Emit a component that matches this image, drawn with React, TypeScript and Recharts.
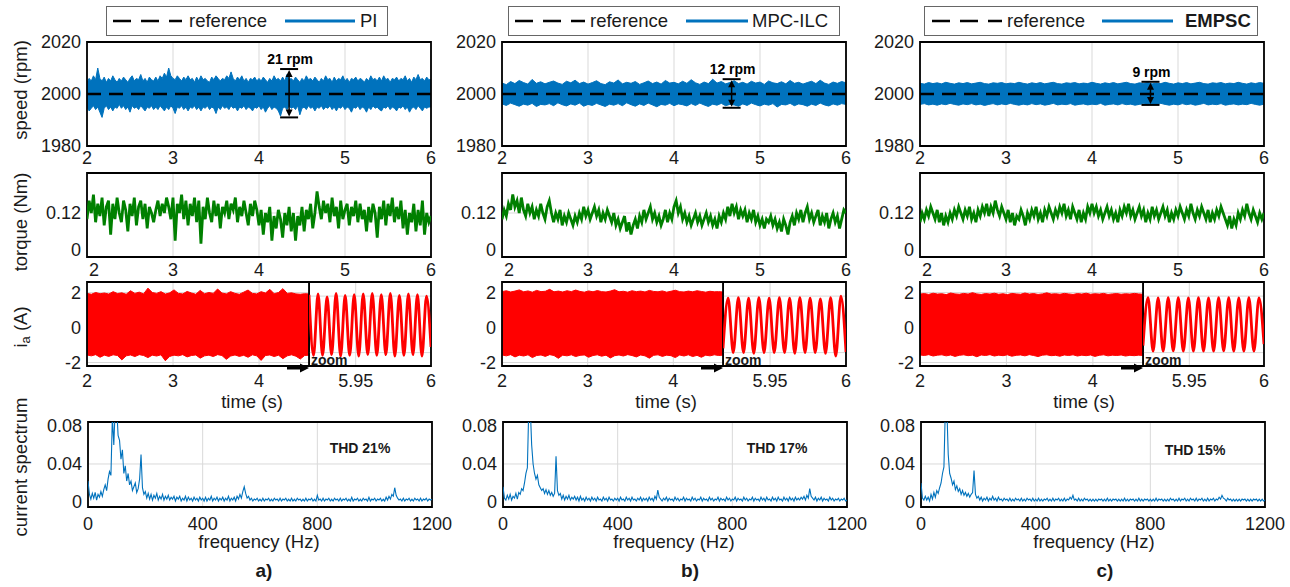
import React from 'react';
import { ComposedChart, Line, Area, XAxis, YAxis, CartesianGrid, ReferenceLine, ReferenceArea } from 'recharts';

const FONT = '"Liberation Sans", Arial, Helvetica, sans-serif';
const INK = '#1a1a1a';
const BLUE = '#0072BD';
const GREEN = '#008000';
const RED = '#FF0000';
const GRID = '#d9d9d9';

const methods = ['PI', 'MPC-ILC', 'EMPSC'];
const panelTags = ['a)', 'b)', 'c)'];
const thdLabels = ['THD 21%', 'THD 17%', 'THD 15%'];

const speedRef = 2000;
const speedTicks = [1980, 2000, 2020];
const timeTicks = [2, 3, 4, 5, 6];
const torqueTicks = [0, 0.12];
const currentTicks = [-2, 0, 2];
const zoomTicks = [5.95, 6];
const spectrumTicks = [0, 0.04, 0.08];
const freqTicks = [0, 400, 800, 1200];

const currentSplit = 4.58;
const zoomStart = 5.919;

// speed ripple annotation (time, top, bottom)
const rippleTime = [4.35, 4.67, 4.68];
const rippleHigh = [2009.6, 2005.7, 2004.7];
const rippleLow = [1991.0, 1994.7, 1995.8];
const rippleLabel = ['21 rpm', '12 rpm', '9 rpm'];

// speed envelopes, 2..6 s
const speedPiHi = [
  2004.5, 2006, 2005, 2007, 2005.5, 2010, 2006, 2005, 2006.5, 2004.5, 2006, 2005, 2007, 2005.5, 2004.5, 2006,
  2005, 2006.5, 2005.5, 2004.5, 2006, 2007, 2005, 2006, 2005.5, 2007.5, 2005, 2006, 2004.5, 2006.5, 2005.5, 2005,
  2006.5, 2005, 2007, 2006, 2008, 2006.5, 2010, 2007, 2006, 2005.5, 2007, 2006, 2005, 2006.5, 2005.5, 2007,
  2005.5, 2006, 2004.5, 2006.5, 2005, 2007, 2005.5, 2006, 2005, 2004.5, 2006.5, 2005.5, 2007, 2006, 2005, 2006,
  2005.5, 2007, 2006, 2008.5, 2006, 2005, 2006.5, 2005.5, 2007, 2005, 2006, 2004.5, 2006, 2005.5, 2006.5, 2005,
  2006, 2005, 2006.5, 2005.5, 2004.5, 2006, 2005, 2007, 2005.5, 2006, 2005, 2006.5, 2005, 2007.5, 2005.5, 2006,
  2005, 2006.5, 2005.5, 2004.5, 2006, 2005, 2007, 2005.5, 2006, 2005, 2006.5, 2005.5, 2004.5, 2006, 2005, 2007,
  2005.5, 2006, 2004.5, 2006.5, 2005, 2006, 2005.5, 2007, 2005, 2006, 2004.5, 2006, 2005.5, 2006.5, 2005, 2006,
  2005.5, 2004.5, 2006, 2005, 2007, 2005.5, 2006, 2005, 2006.5, 2005, 2007, 2005.5, 2006, 2004.5, 2006, 2005.5,
  2006.5, 2005, 2006, 2005.5, 2007, 2005, 2006, 2004.5, 2006.5, 2005.5, 2007.5, 2005.5, 2006, 2005, 2006.5, 2005.5,
  2005.5,
];
const speedPiLo = [
  1995, 1993.5, 1994.5, 1995.5, 1994, 1995, 1993, 1991, 1994.5, 1995.5, 1994, 1995, 1993.5, 1995, 1994.5, 1996,
  1994.5, 1995.5, 1994, 1995, 1993, 1995.5, 1994.5, 1995, 1994, 1995.5, 1994.5, 1993.5, 1995, 1994.5, 1995.5, 1994,
  1995, 1994, 1995.5, 1994.5, 1993.5, 1995, 1994, 1995.5, 1994.5, 1992.5, 1995, 1994.5, 1995.5, 1994, 1995, 1993.5,
  1995, 1994.5, 1995.5, 1994, 1995, 1993.5, 1995, 1994.5, 1995.5, 1994, 1995, 1994.5, 1992.5, 1995, 1994, 1995.5,
  1994.5, 1995, 1994, 1995.5, 1994.5, 1995, 1993.5, 1995, 1994.5, 1995.5, 1994, 1995, 1994.5, 1993.5, 1995, 1994.5,
  1995.5, 1994, 1995, 1993, 1994.5, 1995.5, 1994, 1995, 1994.5, 1993.5, 1991.5, 1994.5, 1995, 1994, 1995.5, 1994.5,
  1995, 1994, 1995.5, 1992, 1994.5, 1995, 1994, 1995.5, 1994.5, 1995, 1993.5, 1995, 1994.5, 1995.5, 1994, 1995,
  1994.5, 1995.5, 1994, 1995, 1993.5, 1995, 1994.5, 1995.5, 1994, 1995, 1994.5, 1993, 1995, 1994.5, 1995.5, 1994,
  1995, 1994.5, 1993, 1995, 1994, 1995.5, 1994.5, 1995, 1994, 1993.5, 1995, 1994.5, 1995.5, 1994, 1995, 1994.5,
  1993.5, 1995, 1994.5, 1995.5, 1994, 1995, 1993, 1994.5, 1995, 1994, 1995.5, 1994.5, 1993.5, 1995, 1994.5, 1995,
  1995,
];
const speedIlcHi = [
  2004.2, 2003.6, 2004.8, 2004.0, 2005.2, 2004.4, 2003.8, 2005.6, 2004.1, 2004.7,
  2003.9, 2004.5, 2005.0, 2004.2, 2003.7, 2004.9, 2004.3, 2005.3, 2004.0, 2004.6,
  2003.8, 2004.4, 2005.1, 2004.0, 2003.6, 2004.7, 2004.2, 2005.4, 2003.9, 2004.5,
  2004.1, 2004.8, 2003.7, 2004.3, 2005.0, 2004.0, 2004.6, 2003.8, 2005.2, 2004.2,
  2004.5, 2003.9, 2004.9, 2004.1, 2005.5, 2004.3, 2003.7, 2004.6, 2004.0, 2005.7,
  2004.2, 2004.8, 2003.9, 2004.4, 2005.1, 2004.0, 2004.5, 2003.8, 2004.9, 2004.2,
  2004.6, 2003.7, 2005.0, 2004.3, 2004.0, 2004.7, 2003.9, 2005.2, 2004.1, 2004.5,
  2003.8, 2004.4, 2004.9, 2004.0, 2005.3, 2004.2, 2003.7, 2004.6, 2004.1, 2004.8,
  2004.3,
];
const speedIlcLo = [
  1996.2, 1995.6, 1996.5, 1995.9, 1995.3, 1996.1, 1995.7, 1996.4, 1995.2, 1996.0,
  1995.8, 1996.3, 1995.5, 1996.6, 1995.9, 1995.4, 1996.2, 1995.7, 1996.5, 1995.3,
  1996.0, 1995.6, 1996.4, 1995.8, 1995.2, 1996.1, 1995.7, 1996.3, 1995.5, 1996.6,
  1995.9, 1995.3, 1996.2, 1995.6, 1996.5, 1995.8, 1995.1, 1996.0, 1995.7, 1996.4,
  1995.5, 1996.2, 1995.9, 1995.4, 1996.3, 1995.6, 1996.5, 1995.8, 1995.2, 1996.1,
  1995.7, 1996.4, 1995.5, 1996.0, 1995.8, 1995.3, 1996.2, 1995.6, 1996.5, 1995.9,
  1995.4, 1996.1, 1995.7, 1996.3, 1995.0, 1996.0, 1995.8, 1996.4, 1995.5, 1996.2,
  1995.9, 1995.3, 1996.1, 1995.6, 1996.5, 1995.8, 1995.4, 1996.2, 1995.7, 1996.3,
  1996.0,
];
const speedEmpscHi = [
  2004.1, 2003.8, 2004.4, 2004.0, 2004.3, 2003.9, 2004.5, 2004.1, 2003.8, 2004.3,
  2004.0, 2004.4, 2003.9, 2004.2, 2004.5, 2004.0, 2003.8, 2004.3, 2004.1, 2004.4,
  2003.9, 2004.2, 2004.0, 2004.5, 2004.1, 2003.8, 2004.3, 2004.0, 2004.4, 2003.9,
  2004.2, 2004.5, 2004.0, 2003.8, 2004.3, 2004.1, 2004.4, 2003.9, 2004.2, 2004.0,
  2004.5, 2004.1, 2003.8, 2004.3, 2004.0, 2004.4, 2003.9, 2004.2, 2004.5, 2004.0,
  2003.8, 2004.3, 2004.1, 2004.4, 2003.9, 2004.2, 2004.0, 2004.5, 2004.1, 2003.8,
  2004.3, 2004.0, 2004.4, 2003.9, 2004.2, 2004.5, 2004.0, 2003.8, 2004.3, 2004.1,
  2004.4, 2003.9, 2004.2, 2004.0, 2004.5, 2004.1, 2003.8, 2004.3, 2004.0, 2004.4,
  2004.1,
];
const speedEmpscLo = [
  1996.0, 1996.3, 1995.8, 1996.1, 1995.7, 1996.2, 1995.9, 1996.4, 1996.0, 1995.7,
  1996.2, 1995.9, 1996.3, 1995.8, 1996.1, 1995.6, 1996.0, 1996.3, 1995.8, 1996.2,
  1995.9, 1996.4, 1996.0, 1995.7, 1996.1, 1995.8, 1996.3, 1995.9, 1996.2, 1995.7,
  1996.0, 1996.4, 1995.8, 1996.1, 1995.9, 1996.3, 1995.7, 1996.0, 1996.2, 1995.8,
  1996.1, 1995.9, 1996.4, 1995.7, 1996.0, 1996.2, 1995.8, 1996.3, 1995.9, 1996.1,
  1995.7, 1996.0, 1996.3, 1995.8, 1996.2, 1995.9, 1996.4, 1996.0, 1995.7, 1996.1,
  1995.8, 1996.3, 1995.9, 1996.2, 1995.7, 1996.0, 1996.4, 1995.8, 1996.1, 1995.9,
  1996.3, 1995.7, 1996.0, 1996.2, 1995.8, 1996.1, 1995.9, 1996.4, 1996.0, 1995.7,
  1996.1,
];

// torque, 2..6 s
const torquePi = [
  0.10, 0.16, 0.12, 0.18, 0.09, 0.15, 0.11, 0.17, 0.08, 0.14, 0.16, 0.05, 0.15, 0.10, 0.17, 0.12,
  0.09, 0.16, 0.13, 0.06, 0.15, 0.11, 0.17, 0.08, 0.14, 0.16, 0.10, 0.15, 0.07, 0.14, 0.12, 0.09,
  0.13, 0.16, 0.11, 0.15, 0.12, 0.17, 0.14, 0.10, 0.17, 0.03, 0.15, 0.12, 0.18, 0.10, 0.16, 0.08,
  0.15, 0.11, 0.17, 0.09, 0.16, 0.02, 0.14, 0.10, 0.17, 0.12, 0.09, 0.16, 0.11, 0.15, 0.07, 0.14,
  0.12, 0.16, 0.10, 0.15, 0.13, 0.17, 0.09, 0.14, 0.11, 0.16, 0.12, 0.08, 0.15, 0.11, 0.16, 0.13,
  0.08, 0.13, 0.05, 0.12, 0.09, 0.14, 0.03, 0.11, 0.07, 0.13, 0.10, 0.04, 0.12, 0.08, 0.14, 0.06,
  0.12, 0.03, 0.11, 0.08, 0.14, 0.06, 0.13, 0.10, 0.15, 0.07, 0.12, 0.19, 0.14, 0.10, 0.16, 0.12,
  0.15, 0.09, 0.17, 0.11, 0.14, 0.07, 0.16, 0.10, 0.13, 0.15, 0.08, 0.14, 0.11, 0.16, 0.09, 0.15,
  0.10, 0.13, 0.06, 0.14, 0.09, 0.15, 0.12, 0.04, 0.14, 0.10, 0.16, 0.08, 0.15, 0.11, 0.17, 0.09,
  0.14, 0.10, 0.16, 0.07, 0.13, 0.05, 0.12, 0.09, 0.15, 0.06, 0.13, 0.08, 0.16, 0.05, 0.12, 0.09,
  0.11,
];
const torqueIlc = [
  0.10, 0.13, 0.11, 0.15, 0.13, 0.18, 0.14, 0.16, 0.12, 0.17, 0.13, 0.11, 0.15, 0.12, 0.14, 0.10,
  0.13, 0.11, 0.15, 0.12, 0.10, 0.14, 0.16, 0.12, 0.09, 0.12, 0.10, 0.13, 0.08, 0.11, 0.09, 0.12,
  0.10, 0.08, 0.11, 0.09, 0.12, 0.10, 0.14, 0.11, 0.13, 0.10, 0.12, 0.14, 0.11, 0.13, 0.09, 0.12,
  0.10, 0.13, 0.11, 0.09, 0.12, 0.08, 0.10, 0.07, 0.09, 0.11, 0.06, 0.09, 0.05, 0.08, 0.10, 0.07,
  0.11, 0.09, 0.13, 0.10, 0.12, 0.14, 0.10, 0.12, 0.09, 0.11, 0.08, 0.10, 0.13, 0.09, 0.12, 0.10,
  0.14, 0.16, 0.12, 0.14, 0.10, 0.12, 0.09, 0.11, 0.08, 0.10, 0.12, 0.09, 0.11, 0.08, 0.10, 0.12,
  0.09, 0.11, 0.08, 0.10, 0.07, 0.11, 0.09, 0.12, 0.10, 0.14, 0.11, 0.15, 0.12, 0.14, 0.10, 0.13,
  0.11, 0.13, 0.09, 0.12, 0.10, 0.13, 0.09, 0.11, 0.08, 0.10, 0.07, 0.10, 0.09, 0.11, 0.08, 0.10,
  0.07, 0.09, 0.06, 0.10, 0.08, 0.05, 0.09, 0.11, 0.08, 0.12, 0.10, 0.13, 0.09, 0.12, 0.14, 0.10,
  0.12, 0.09, 0.11, 0.13, 0.08, 0.11, 0.09, 0.12, 0.07, 0.10, 0.12, 0.09, 0.11, 0.07, 0.10, 0.13,
  0.12,
];
const torqueEmpsc = [
  0.09, 0.12, 0.10, 0.13, 0.11, 0.14, 0.12, 0.10, 0.13, 0.09, 0.12, 0.08, 0.11, 0.09, 0.12, 0.10,
  0.13, 0.11, 0.14, 0.12, 0.10, 0.13, 0.11, 0.14, 0.10, 0.12, 0.09, 0.13, 0.11, 0.14, 0.12, 0.15,
  0.11, 0.14, 0.12, 0.16, 0.13, 0.11, 0.14, 0.12, 0.10, 0.13, 0.09, 0.12, 0.08, 0.11, 0.10, 0.13,
  0.11, 0.08, 0.12, 0.10, 0.13, 0.11, 0.14, 0.10, 0.12, 0.09, 0.13, 0.11, 0.14, 0.12, 0.10, 0.13,
  0.11, 0.14, 0.12, 0.15, 0.11, 0.13, 0.10, 0.14, 0.12, 0.10, 0.13, 0.09, 0.12, 0.10, 0.14, 0.12,
  0.15, 0.12, 0.14, 0.11, 0.13, 0.10, 0.12, 0.14, 0.11, 0.13, 0.10, 0.12, 0.09, 0.13, 0.11, 0.14,
  0.12, 0.15, 0.11, 0.13, 0.10, 0.12, 0.14, 0.11, 0.13, 0.09, 0.12, 0.10, 0.14, 0.11, 0.13, 0.10,
  0.12, 0.14, 0.11, 0.13, 0.09, 0.12, 0.10, 0.13, 0.11, 0.14, 0.12, 0.10, 0.13, 0.11, 0.15, 0.12,
  0.10, 0.13, 0.11, 0.14, 0.12, 0.10, 0.13, 0.09, 0.12, 0.10, 0.13, 0.11, 0.14, 0.12, 0.10, 0.08,
  0.11, 0.07, 0.10, 0.08, 0.12, 0.10, 0.13, 0.11, 0.15, 0.12, 0.10, 0.13, 0.11, 0.09, 0.12, 0.10,
  0.12,
];

// phase current envelopes, 2..4.58 s
const currentPiHi = [
  1.95, 1.90, 2.00, 1.93, 1.97, 1.91, 2.05, 1.94, 1.98, 1.90,
  2.10, 1.95, 2.02, 1.92, 2.25, 2.00, 1.95, 2.05, 1.91, 1.98,
  2.15, 1.95, 1.92, 2.06, 1.97, 1.90, 2.12, 1.93, 2.00, 1.95,
  2.20, 1.97, 1.92, 2.05, 1.95, 1.90, 2.02, 2.14, 1.95, 1.92,
  2.05, 1.97, 2.18, 1.93, 2.00, 2.22, 1.95, 1.98, 1.92, 1.90,
  1.93, 1.92,
];
const currentPiLo = [
  -1.57, -1.62, -1.55, -1.70, -1.58, -1.65, -1.56, -1.60, -1.85, -1.62,
  -1.57, -1.66, -1.55, -1.60, -1.72, -1.58, -1.63, -1.56, -1.90, -1.65,
  -1.58, -1.62, -1.55, -1.68, -1.60, -1.57, -1.75, -1.62, -1.58, -1.66,
  -1.55, -1.60, -1.82, -1.63, -1.57, -1.65, -1.59, -1.70, -1.56, -1.62,
  -1.88, -1.60, -1.57, -1.66, -1.58, -1.78, -1.62, -1.56, -1.64, -1.80,
  -1.60, -1.58,
];
const currentIlcHi = [
  2.05, 2.10, 2.03, 2.08, 2.15, 2.04, 2.09, 2.02, 2.12, 2.05,
  2.07, 2.18, 2.04, 2.08, 2.03, 2.10, 2.05, 2.14, 2.06, 2.02,
  2.09, 2.04, 2.11, 2.05, 2.03, 2.08, 2.16, 2.04, 2.07, 2.02,
  2.10, 2.05, 2.08, 2.03, 2.12, 2.06, 2.04, 2.09, 2.02, 2.07,
  2.13, 2.05, 2.03, 2.08, 2.04, 2.10, 2.06, 2.02, 2.07, 2.04,
  2.05, 2.03,
];
const currentIlcLo = [
  -1.57, -1.62, -1.55, -1.68, -1.58, -1.63, -1.56, -1.72, -1.60, -1.57,
  -1.65, -1.55, -1.60, -1.76, -1.58, -1.62, -1.56, -1.66, -1.59, -1.57,
  -1.70, -1.60, -1.56, -1.64, -1.58, -1.74, -1.61, -1.57, -1.63, -1.55,
  -1.60, -1.68, -1.57, -1.62, -1.75, -1.59, -1.56, -1.65, -1.58, -1.61,
  -1.72, -1.57, -1.63, -1.56, -1.66, -1.59, -1.70, -1.58, -1.62, -1.56,
  -1.60, -1.58,
];
const currentEmpscHi = [
  1.91, 1.94, 1.89, 1.96, 1.91, 1.93, 1.88, 1.97, 1.92, 1.90,
  1.95, 1.91, 1.99, 1.92, 1.89, 1.94, 1.91, 1.96, 1.90, 1.93,
  1.88, 1.95, 1.92, 1.90, 1.97, 1.91, 1.94, 1.89, 1.92, 1.98,
  1.91, 1.93, 1.90, 1.95, 1.92, 1.89, 1.94, 1.91, 1.96, 1.90,
  1.93, 1.91, 1.95, 1.89, 1.92, 1.94, 1.90, 1.93, 1.91, 1.95,
  1.92, 1.90,
];
const currentEmpscLo = [
  -1.57, -1.60, -1.55, -1.63, -1.58, -1.56, -1.62, -1.57, -1.65, -1.59,
  -1.56, -1.61, -1.58, -1.67, -1.57, -1.60, -1.55, -1.63, -1.58, -1.61,
  -1.56, -1.64, -1.59, -1.57, -1.62, -1.55, -1.60, -1.66, -1.58, -1.56,
  -1.61, -1.59, -1.64, -1.57, -1.60, -1.56, -1.63, -1.58, -1.61, -1.57,
  -1.65, -1.59, -1.56, -1.62, -1.58, -1.60, -1.57, -1.63, -1.59, -1.61,
  -1.58, -1.60,
];

// zoomed current, successive peaks and troughs from 5.919 to 6 s
const zoomPi = [
  2.1, -2.2, 2.15, -2.2, 1.95, -2.15, 2.2, -2.25, 2.05, -2.2,
  2.1, -2.25, 2.15, -2.15, 2.2, -2.2, 2.1, -2.15, 2.2, -2.25,
  2.05, -2.2, 2.15, -2.15, 2.1, -2.25, 2.0, -1.6,
];
const zoomIlc = [
  -1.7, 1.85, -2.0, 1.9, -2.0, 1.85, -2.05, 1.9, -2.0, 1.85,
  -2.0, 1.9, -2.0, 1.85, -2.05, 1.9, -2.0, 1.85, -2.0, 1.8,
  -2.05, 1.9, -2.25, 2.0, -1.95,
];
const zoomEmpsc = [
  -1.5, 1.9, -1.9, 1.88, -1.9, 1.9, -1.88, 1.9, -1.9, 1.88,
  -1.9, 1.9, -1.9, 1.88, -1.9, 1.9, -1.88, 1.9, -1.9, 1.88,
  -1.9, 1.9, -1.9, 1.88, -1.4,
];

// current spectrum, 0..1200 Hz every 5 Hz (one row per 100 Hz)
const spectrumPi = [
  0.022, 0.008, 0.003, 0.009, 0.004, 0.010, 0.002, 0.008, 0.005, 0.011, 0.006, 0.013, 0.018, 0.012, 0.024, 0.032, 0.028, 0.090, 0.060, 0.100,
  0.100, 0.070, 0.065, 0.045, 0.055, 0.030, 0.038, 0.022, 0.030, 0.018, 0.022, 0.012, 0.016, 0.020, 0.010, 0.014, 0.024, 0.050, 0.015, 0.008,
  0.011, 0.004, 0.009, 0.003, 0.008, 0.002, 0.007, 0.004, 0.009, 0.002, 0.006, 0.003, 0.008, 0.002, 0.006, 0.003, 0.007, 0.002, 0.005, 0.003,
  0.006, 0.001, 0.005, 0.003, 0.006, 0.001, 0.004, 0.002, 0.006, 0.001, 0.005, 0.002, 0.004, 0.001, 0.005, 0.002, 0.004, 0.001, 0.005, 0.002,
  0.004, 0.001, 0.005, 0.001, 0.004, 0.002, 0.006, 0.001, 0.004, 0.002, 0.005, 0.001, 0.004, 0.002, 0.005, 0.001, 0.004, 0.002, 0.006, 0.001,
  0.004, 0.002, 0.005, 0.001, 0.006, 0.003, 0.008, 0.004, 0.011, 0.016, 0.009, 0.004, 0.006, 0.002, 0.004, 0.001, 0.003, 0.002, 0.004, 0.001,
  0.003, 0.001, 0.004, 0.001, 0.003, 0.002, 0.004, 0.001, 0.003, 0.001, 0.004, 0.002, 0.003, 0.001, 0.004, 0.001, 0.003, 0.002, 0.004, 0.001,
  0.003, 0.001, 0.004, 0.001, 0.003, 0.001, 0.004, 0.002, 0.003, 0.001, 0.003, 0.001, 0.004, 0.001, 0.003, 0.002, 0.004, 0.001, 0.003, 0.001,
  0.007, 0.002, 0.003, 0.001, 0.004, 0.001, 0.003, 0.002, 0.004, 0.001, 0.003, 0.001, 0.004, 0.002, 0.003, 0.001, 0.004, 0.001, 0.003, 0.002,
  0.004, 0.001, 0.003, 0.001, 0.005, 0.001, 0.003, 0.002, 0.004, 0.001, 0.003, 0.001, 0.004, 0.002, 0.003, 0.001, 0.005, 0.001, 0.003, 0.002,
  0.004, 0.001, 0.003, 0.002, 0.004, 0.001, 0.003, 0.001, 0.005, 0.002, 0.006, 0.003, 0.008, 0.006, 0.015, 0.007, 0.004, 0.002, 0.003, 0.001,
  0.004, 0.001, 0.003, 0.002, 0.004, 0.001, 0.003, 0.001, 0.004, 0.002, 0.003, 0.001, 0.004, 0.001, 0.003, 0.002, 0.004, 0.001, 0.003, 0.002,
  0.003,
];
const spectrumIlc = [
  0.016, 0.004, 0.002, 0.007, 0.003, 0.008, 0.002, 0.006, 0.004, 0.009, 0.003, 0.010, 0.008, 0.014, 0.012, 0.020, 0.030, 0.036, 0.100, 0.100,
  0.060, 0.040, 0.030, 0.024, 0.028, 0.018, 0.015, 0.012, 0.014, 0.009, 0.013, 0.008, 0.012, 0.007, 0.010, 0.006, 0.009, 0.048, 0.012, 0.007,
  0.009, 0.003, 0.007, 0.002, 0.006, 0.003, 0.007, 0.002, 0.005, 0.003, 0.006, 0.002, 0.005, 0.001, 0.006, 0.002, 0.004, 0.001, 0.005, 0.002,
  0.004, 0.001, 0.005, 0.002, 0.004, 0.001, 0.005, 0.002, 0.003, 0.001, 0.005, 0.002, 0.004, 0.001, 0.005, 0.002, 0.003, 0.001, 0.004, 0.002,
  0.004, 0.001, 0.005, 0.002, 0.003, 0.001, 0.005, 0.002, 0.004, 0.001, 0.005, 0.002, 0.003, 0.001, 0.004, 0.002, 0.005, 0.001, 0.004, 0.002,
  0.004, 0.001, 0.005, 0.002, 0.004, 0.001, 0.006, 0.003, 0.0125, 0.005, 0.003, 0.001, 0.004, 0.002, 0.005, 0.001, 0.004, 0.002, 0.003, 0.001,
  0.005, 0.002, 0.004, 0.001, 0.003, 0.002, 0.005, 0.001, 0.004, 0.002, 0.003, 0.001, 0.005, 0.002, 0.004, 0.001, 0.003, 0.002, 0.005, 0.001,
  0.004, 0.002, 0.003, 0.001, 0.005, 0.002, 0.004, 0.001, 0.003, 0.002, 0.005, 0.001, 0.004, 0.002, 0.003, 0.001, 0.005, 0.002, 0.004, 0.001,
  0.003, 0.002, 0.005, 0.001, 0.004, 0.002, 0.003, 0.001, 0.005, 0.002, 0.004, 0.001, 0.003, 0.002, 0.005, 0.001, 0.004, 0.002, 0.003, 0.001,
  0.005, 0.002, 0.004, 0.001, 0.005, 0.002, 0.003, 0.001, 0.005, 0.002, 0.004, 0.001, 0.005, 0.002, 0.003, 0.001, 0.005, 0.002, 0.004, 0.001,
  0.005, 0.002, 0.004, 0.001, 0.005, 0.002, 0.004, 0.002, 0.005, 0.003, 0.006, 0.002, 0.007, 0.004, 0.014, 0.006, 0.004, 0.002, 0.005, 0.001,
  0.004, 0.002, 0.005, 0.001, 0.004, 0.002, 0.003, 0.001, 0.005, 0.002, 0.004, 0.001, 0.003, 0.002, 0.004, 0.001, 0.003, 0.002, 0.004, 0.001,
  0.002,
];
const spectrumEmpsc = [
  0.020, 0.004, 0.002, 0.006, 0.002, 0.005, 0.001, 0.008, 0.003, 0.010, 0.005, 0.012, 0.009, 0.015, 0.020, 0.030, 0.037, 0.100, 0.100, 0.050,
  0.030, 0.025, 0.018, 0.022, 0.013, 0.017, 0.011, 0.014, 0.008, 0.012, 0.007, 0.010, 0.006, 0.009, 0.005, 0.008, 0.010, 0.033, 0.008, 0.004,
  0.006, 0.002, 0.005, 0.001, 0.004, 0.002, 0.005, 0.001, 0.004, 0.002, 0.006, 0.002, 0.004, 0.001, 0.005, 0.002, 0.003, 0.001, 0.004, 0.002,
  0.003, 0.001, 0.004, 0.001, 0.003, 0.001, 0.004, 0.002, 0.003, 0.001, 0.004, 0.001, 0.003, 0.001, 0.004, 0.002, 0.003, 0.001, 0.004, 0.001,
  0.003, 0.001, 0.004, 0.001, 0.003, 0.001, 0.003, 0.002, 0.004, 0.001, 0.003, 0.001, 0.004, 0.001, 0.003, 0.002, 0.004, 0.001, 0.003, 0.001,
  0.004, 0.001, 0.003, 0.002, 0.005, 0.003, 0.007, 0.002, 0.003, 0.001, 0.004, 0.001, 0.003, 0.001, 0.004, 0.002, 0.003, 0.001, 0.003, 0.001,
  0.003, 0.001, 0.003, 0.001, 0.003, 0.002, 0.003, 0.001, 0.003, 0.001, 0.004, 0.001, 0.003, 0.001, 0.003, 0.002, 0.003, 0.001, 0.003, 0.001,
  0.003, 0.001, 0.004, 0.001, 0.003, 0.001, 0.003, 0.002, 0.003, 0.001, 0.003, 0.001, 0.004, 0.001, 0.003, 0.001, 0.003, 0.002, 0.003, 0.001,
  0.003, 0.001, 0.003, 0.001, 0.004, 0.001, 0.003, 0.002, 0.003, 0.001, 0.003, 0.001, 0.003, 0.001, 0.004, 0.002, 0.003, 0.001, 0.003, 0.001,
  0.004, 0.001, 0.003, 0.002, 0.004, 0.001, 0.003, 0.001, 0.004, 0.002, 0.003, 0.001, 0.004, 0.001, 0.003, 0.002, 0.004, 0.001, 0.003, 0.001,
  0.004, 0.001, 0.003, 0.002, 0.004, 0.001, 0.003, 0.002, 0.005, 0.003, 0.007, 0.004, 0.003, 0.001, 0.004, 0.002, 0.003, 0.001, 0.003, 0.001,
  0.003, 0.001, 0.003, 0.001, 0.003, 0.002, 0.003, 0.001, 0.003, 0.001, 0.003, 0.001, 0.003, 0.002, 0.003, 0.001, 0.003, 0.001, 0.003, 0.001,
  0.002,
];

const speedHi = [speedPiHi, speedIlcHi, speedEmpscHi];
const speedLo = [speedPiLo, speedIlcLo, speedEmpscLo];
const torque = [torquePi, torqueIlc, torqueEmpsc];
const currentHi = [currentPiHi, currentIlcHi, currentEmpscHi];
const currentLo = [currentPiLo, currentIlcLo, currentEmpscLo];
const zoomCurrent = [zoomPi, zoomIlc, zoomEmpsc];
const spectrum = [spectrumPi, spectrumIlc, spectrumEmpsc];

// sample grid for n evenly spaced samples
const grid = (n: number, a: number, b: number) => Array.from({ length: n }, (_, i) => a + ((b - a) * i) / (n - 1));
const bandRows = (lo: number[], hi: number[], a: number, b: number) => {
  const t = grid(lo.length, a, b);
  return lo.map((v, i) => ({ t: t[i], band: [v, hi[i]] }));
};
const lineRows = (vals: number[], a: number, b: number) => {
  const t = grid(vals.length, a, b);
  return vals.map((v, i) => ({ t: t[i], v }));
};

// layout (page pixels)
const colLeft = [87, 502, 920];
const colW = 344;
const splitX = [309, 723, 1143];

const tickStyle = { fill: INK, fontSize: 18, fontFamily: FONT };

const torqueTick = (props: any) => {
  const { x, y, payload } = props;
  return (
    <text x={x + (payload.value === 2 ? 7 : 0)} y={y} dy="0.71em" textAnchor="middle" fill={INK} fontSize={18} fontFamily={FONT}>
      {payload.value}
    </text>
  );
};

const rippleShape = (label: string) => (p: any) => {
  const x = p.x1;
  const top = Math.min(p.y1, p.y2);
  const bot = Math.max(p.y1, p.y2);
  return (
    <g>
      <line x1={x} x2={x} y1={top + 5} y2={bot - 5} stroke="#000" strokeWidth={1.5} />
      <line x1={x - 9} x2={x + 9} y1={top} y2={top} stroke="#000" strokeWidth={2} />
      <line x1={x - 9} x2={x + 9} y1={bot} y2={bot} stroke="#000" strokeWidth={2} />
      <polygon points={`${x},${top + 1} ${x - 3.5},${top + 8} ${x + 3.5},${top + 8}`} fill="#000" />
      <polygon points={`${x},${bot - 1} ${x - 3.5},${bot - 8} ${x + 3.5},${bot - 8}`} fill="#000" />
      <text x={x + 1} y={top - 5} textAnchor="middle" fontWeight="bold" fontSize={14} fontFamily={FONT} fill="#000">
        {label}
      </text>
    </g>
  );
};

type PlotProps = {
  x: number;
  y: number;
  w: number;
  h: number;
  data: any[];
  xDomain: [number, number];
  xTicks: number[];
  yDomain: [number, number];
  yTicks?: number[];
  gridY: number[];
  tickGap: number;
  xTick?: any;
  children?: React.ReactNode;
};

function Plot({ x, y, w, h, data, xDomain, xTicks, yDomain, yTicks, gridY, tickGap, xTick, children }: PlotProps) {
  const padL = yTicks ? 60 : 0;
  const padR = 24;
  const padT = 12;
  const padB = 34;
  return (
    <div style={{ position: 'absolute', left: x - padL, top: y - padT }}>
      <ComposedChart width={w + padL + padR} height={h + padT + padB} data={data} margin={{ top: padT, right: padR, bottom: 0, left: 0 }}>
        <CartesianGrid stroke={GRID} strokeWidth={1} verticalValues={xTicks} horizontalValues={gridY} />
        <XAxis
          type="number"
          dataKey="t"
          domain={xDomain}
          ticks={xTicks}
          interval={0}
          allowDataOverflow
          height={padB}
          axisLine={false}
          tickLine={false}
          tickSize={1}
          tickMargin={tickGap}
          tick={xTick ?? tickStyle}
        />
        <YAxis
          type="number"
          domain={yDomain}
          ticks={yTicks}
          interval={0}
          allowDataOverflow
          width={padL}
          hide={!yTicks}
          axisLine={false}
          tickLine={false}
          tickSize={1}
          tickMargin={5}
          tick={tickStyle}
        />
        {children}
        <ReferenceArea
          x1={xDomain[0]}
          x2={xDomain[1]}
          y1={yDomain[0]}
          y2={yDomain[1]}
          fill="none"
          fillOpacity={0}
          stroke="#000"
          strokeWidth={1.8}
          ifOverflow="visible"
        />
      </ComposedChart>
    </div>
  );
}

function Column({ c }: { c: number }) {
  const left = colLeft[c];
  const split = splitX[c];
  return (
    <>
      <Plot
        x={left} y={42} w={colW} h={104}
        data={bandRows(speedLo[c], speedHi[c], 2, 6)}
        xDomain={[2, 6]} xTicks={timeTicks}
        yDomain={[1980, 2020]} yTicks={speedTicks} gridY={[2000]}
        tickGap={4}
      >
        <Area dataKey="band" type="linear" stroke={BLUE} strokeWidth={1} fill={BLUE} fillOpacity={1} dot={false} activeDot={false} isAnimationActive={false} />
        <ReferenceLine y={speedRef} stroke="#000" strokeWidth={2.5} strokeDasharray="14 8" />
        <ReferenceLine
          segment={[{ x: rippleTime[c], y: rippleLow[c] }, { x: rippleTime[c], y: rippleHigh[c] }]}
          shape={rippleShape(rippleLabel[c])}
        />
      </Plot>
      <Plot
        x={left} y={173} w={colW} h={84}
        data={lineRows(torque[c], 2, 6)}
        xDomain={[2, 6]} xTicks={timeTicks}
        yDomain={[-0.023, 0.25]} yTicks={torqueTicks} gridY={[0.12]}
        tickGap={5} xTick={torqueTick}
      >
        <Line dataKey="v" type="linear" stroke={GREEN} strokeWidth={2.8} dot={false} activeDot={false} isAnimationActive={false} />
      </Plot>
      <Plot
        x={left} y={282} w={split - left} h={84}
        data={bandRows(currentLo[c], currentHi[c], 2, currentSplit)}
        xDomain={[2, currentSplit]} xTicks={[2, 3, 4]}
        yDomain={[-2.2, 2.6]} yTicks={currentTicks} gridY={[]}
        tickGap={7}
      >
        <Area dataKey="band" type="linear" stroke={RED} strokeWidth={1} fill={RED} fillOpacity={1} dot={false} activeDot={false} isAnimationActive={false} />
      </Plot>
      <Plot
        x={split} y={282} w={left + colW - split} h={84}
        data={lineRows(zoomCurrent[c], zoomStart, 6)}
        xDomain={[zoomStart, 6]} xTicks={zoomTicks}
        yDomain={[-2.95, 3]} gridY={[-2, 2]}
        tickGap={7}
      >
        <Line dataKey="v" type="monotone" stroke={RED} strokeWidth={2.8} dot={false} activeDot={false} isAnimationActive={false} />
      </Plot>
      <Plot
        x={left + 1} y={422} w={colW} h={85}
        data={lineRows(spectrum[c], 0, 1200)}
        xDomain={[0, 1200]} xTicks={freqTicks}
        yDomain={[-0.0053, 0.0842]} yTicks={spectrumTicks} gridY={[0.04]}
        tickGap={9}
      >
        <Line dataKey="v" type="linear" stroke={BLUE} strokeWidth={1.1} dot={false} activeDot={false} isAnimationActive={false} />
      </Plot>
    </>
  );
}

const legendLayout = [
  { x: 106, w: 281, dash: [113, 182], refText: 189, line: [285, 355], name: 360 },
  { x: 508, w: 331, dash: [515, 585], refText: 590, line: [686, 748], name: 752 },
  { x: 924, w: 333, dash: [932, 1002], refText: 1007, line: [1102, 1173], name: 1185 },
];
const timeLabelX = [252, 666, 1084];
const freqLabelX = [259, 674, 1094];
const tagX = [264, 690, 1105];
const thdPos = [
  [360, 453],
  [777, 453],
  [1195, 455],
];

function Overlay() {
  const txt = { fontFamily: FONT, fill: INK };
  return (
    <svg width={1290} height={587} style={{ position: 'absolute', left: 0, top: 0, pointerEvents: 'none' }}>
      {legendLayout.map((l, c) => (
        <g key={`lg${c}`}>
          <rect x={l.x + 0.5} y={6.5} width={l.w} height={29} fill="#fff" stroke="#666" strokeWidth={1} />
          <line x1={l.dash[0]} x2={l.dash[1]} y1={21} y2={21} stroke="#000" strokeWidth={2.5} strokeDasharray="18 10" />
          <text x={l.refText} y={27} fontSize={18.5} {...txt}>reference</text>
          <line x1={l.line[0]} x2={l.line[1]} y1={21} y2={21} stroke={BLUE} strokeWidth={3} />
          <text x={l.name} y={27} fontSize={18.5} fontWeight={c === 2 ? 'bold' : 'normal'} {...txt}>{methods[c]}</text>
        </g>
      ))}

      <text transform="translate(20,90) rotate(-90)" textAnchor="middle" dominantBaseline="central" fontSize={18.5} {...txt}>speed (rpm)</text>
      <text transform="translate(20,222) rotate(-90)" textAnchor="middle" dominantBaseline="central" fontSize={18.5} {...txt}>torque (Nm)</text>
      <text transform="translate(20,327) rotate(-90)" textAnchor="middle" dominantBaseline="central" fontSize={18.5} {...txt}>
        i<tspan fontSize={13} dy={5}>a</tspan>
        <tspan dy={-5}> (A)</tspan>
      </text>
      <text transform="translate(20,467) rotate(-90)" textAnchor="middle" dominantBaseline="central" fontSize={18.5} {...txt}>current spectrum</text>

      {[0, 1, 2].map((c) => (
        <g key={`lb${c}`}>
          <text x={timeLabelX[c]} y={408} textAnchor="middle" fontSize={18.5} {...txt}>time (s)</text>
          <text x={freqLabelX[c]} y={548} textAnchor="middle" fontSize={18.5} {...txt}>frequency (Hz)</text>
          <text x={tagX[c]} y={577} textAnchor="middle" fontSize={19} fontWeight="bold" {...txt}>{panelTags[c]}</text>
          <text x={thdPos[c][0]} y={thdPos[c][1]} textAnchor="middle" fontSize={14} fontWeight="bold" {...txt}>{thdLabels[c]}</text>
          <text x={splitX[c] + 2} y={365} fontSize={14} fontWeight="bold" {...txt}>zoom</text>
          <line x1={splitX[c] - 22} x2={splitX[c] - 7} y1={368} y2={368} stroke="#000" strokeWidth={3} />
          <polygon points={`${splitX[c] - 9},${363.5} ${splitX[c]},${368} ${splitX[c] - 9},${372.5}`} fill="#000" />
        </g>
      ))}
    </svg>
  );
}

export default function App() {
  return (
    <div style={{ position: 'absolute', left: 0, top: 0, width: 1290, height: 587, background: '#fff', fontFamily: FONT }}>
      {[0, 1, 2].map((c) => (
        <Column key={c} c={c} />
      ))}
      <Overlay />
    </div>
  );
}
